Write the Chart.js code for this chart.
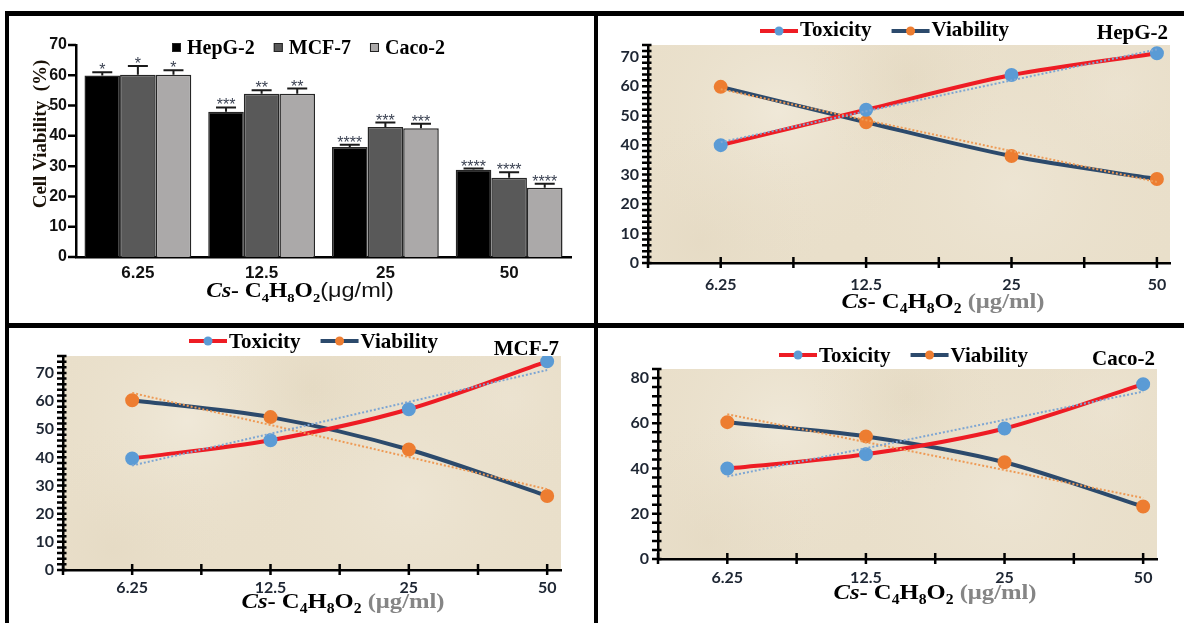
<!DOCTYPE html>
<html>
<head>
<meta charset="utf-8">
<script src="https://cdn.jsdelivr.net/npm/chart.js@4.4.0/dist/chart.umd.min.js"></script>
<style>
  html, body { margin: 0; padding: 0; background: #fff; }
  #page { position: relative; width: 1184px; height: 623px; overflow: hidden; background: #fff; }
  .rule { position: absolute; background: #000; }
  canvas { position: absolute; }
</style>
</head>
<body>
<div id="page">
  <canvas id="bars" width="585" height="307" style="left:9px;top:16px"></canvas>
  <canvas id="hepLine" width="586" height="307" style="left:598px;top:16px"></canvas>
  <canvas id="mcfLine" width="585" height="295" style="left:9px;top:328px"></canvas>
  <canvas id="cacoLine" width="586" height="295" style="left:598px;top:328px"></canvas>
  <div class="rule" style="left:5px;top:11px;width:1179px;height:5px"></div>
  <div class="rule" style="left:5px;top:11px;width:4px;height:612px"></div>
  <div class="rule" style="left:594px;top:11px;width:4px;height:612px"></div>
  <div class="rule" style="left:5px;top:323px;width:1179px;height:5px"></div>
</div>
<script>
const doses = ['6.25', '12.5', '25', '50'];
const cellLines = ['HepG-2', 'MCF-7', 'Caco-2'];

// bar panel: cell viability (%), upper error and significance marks
const hepViability = [59.9, 48.0, 36.3, 28.8];
const mcfViability = [60.2, 53.9, 42.9, 26.2];
const cacoViability = [60.2, 53.9, 42.5, 22.9];
const hepSd = [1.1, 1.4, 0.8, 0.4];
const mcfSd = [2.9, 1.2, 1.5, 1.8];
const cacoSd = [1.5, 1.7, 1.5, 1.3];
const hepStars = ['*', '***', '****', '****'];
const mcfStars = ['*', '**', '***', '****'];
const cacoStars = ['*', '**', '***', '****'];

// line panels: toxicity / viability per dose, dotted trend at 6.25 and 50
const hepToxicity = [40.0, 52.0, 63.8, 71.2];
const hepViabilityLine = [59.8, 47.8, 36.3, 28.5];
const hepToxicityTrend = [41.0, 72.5];
const hepViabilityTrend = [59.0, 27.5];

const mcfToxicity = [39.6, 46.1, 57.1, 74.1];
const mcfViabilityLine = [60.3, 54.3, 42.8, 26.3];
const mcfToxicityTrend = [37.1, 71.0];
const mcfViabilityTrend = [62.9, 28.7];

const cacoToxicity = [40.0, 46.3, 57.7, 77.3];
const cacoViabilityLine = [60.5, 54.2, 42.8, 23.2];
const cacoToxicityTrend = [36.5, 74.0];
const cacoViabilityTrend = [64.0, 27.0];

const SERIF = '"Liberation Serif", "Times New Roman", serif';
const SANS = '"Liberation Sans", Arial, sans-serif';
const CAL = 'Lato, "Liberation Sans", sans-serif';

// draws text pieces side by side; sx stretches the whole line horizontally
function drawRuns(ctx, runs, x, y, align, sx) {
    sx = sx || 1;
    ctx.save();
    ctx.textBaseline = 'alphabetic';
    ctx.textAlign = 'left';
    let total = 0;
    runs.forEach(r => { ctx.font = r.font; total += ctx.measureText(r.text).width; });
    let start = align === 'center' ? -total / 2 : (align === 'right' ? -total : 0);
    ctx.translate(x, y);
    ctx.scale(sx, 1);
    let cx = start;
    runs.forEach(r => {
        ctx.font = r.font;
        ctx.fillStyle = r.color || '#000';
        ctx.fillText(r.text, cx, r.dy || 0);
        cx += ctx.measureText(r.text).width;
    });
    ctx.restore();
}

function formulaRuns(size, unit) {
    const big = `bold ${size}px ${SERIF}`;
    const sub = `bold ${Math.round(size * 0.62)}px ${SERIF}`;
    const dy = Math.round(size * 0.22);
    return [
        { text: 'Cs', font: `italic bold ${size}px ${SERIF}` },
        { text: '- ', font: big },
        { text: 'C', font: big }, { text: '4', font: sub, dy: dy },
        { text: 'H', font: big }, { text: '8', font: sub, dy: dy },
        { text: 'O', font: big }, { text: '2', font: sub, dy: dy },
        unit
    ];
}

// ---------- bar panel ----------
const barDecor = {
    id: 'barDecor',
    afterDatasetsDraw(chart) {
        const ctx = chart.ctx;
        const yScale = chart.scales.y;
        chart.data.datasets.forEach((ds, i) => {
            const meta = chart.getDatasetMeta(i);
            meta.data.forEach((bar, j) => {
                const top = yScale.getPixelForValue(ds.data[j] + ds.sd[j]);
                ctx.save();
                ctx.strokeStyle = '#1a1a1a';
                ctx.lineWidth = 2;
                ctx.beginPath();
                ctx.moveTo(bar.x, bar.y);
                ctx.lineTo(bar.x, top);
                ctx.moveTo(bar.x - 10, top);
                ctx.lineTo(bar.x + 10, top);
                ctx.stroke();
                ctx.font = `16px ${SANS}`;
                ctx.fillStyle = '#3b4252';
                ctx.textAlign = 'center';
                ctx.textBaseline = 'alphabetic';
                ctx.fillText(ds.stars[j], bar.x, top + 3);
                ctx.restore();
            });
        });
    },
    afterDraw(chart) {
        const ctx = chart.ctx;
        // y tick marks, left of the axis
        const ys = chart.scales.y;
        ctx.save();
        ctx.strokeStyle = '#000';
        ctx.lineWidth = 2.5;
        ctx.beginPath();
        ys.ticks.forEach(t => {
            const py = ys.getPixelForValue(t.value);
            ctx.moveTo(ys.right - 8, py);
            ctx.lineTo(ys.right, py);
        });
        ctx.stroke();
        ctx.restore();
        // legend
        let x = 163;
        chart.data.datasets.forEach(ds => {
            ctx.save();
            ctx.fillStyle = ds.backgroundColor;
            ctx.fillRect(x, 27, 9, 9);
            ctx.strokeStyle = '#222';
            ctx.lineWidth = 1;
            ctx.strokeRect(x + 0.5, 27.5, 8, 8);
            ctx.font = `bold 20px ${SERIF}`;
            ctx.fillStyle = '#000';
            ctx.textBaseline = 'alphabetic';
            ctx.fillText(ds.label, x + 15, 38);
            x += 15 + ctx.measureText(ds.label).width + 19;
            ctx.restore();
        });
        // y title
        ctx.save();
        ctx.translate(37, 118);
        ctx.rotate(-Math.PI / 2);
        ctx.font = `bold 19px ${SERIF}`;
        ctx.fillStyle = '#1a1208';
        ctx.textAlign = 'center';
        ctx.fillText('Cell Viability  (%)', 0, 0);
        ctx.restore();
        // x title
        drawRuns(ctx, formulaRuns(21, { text: '(μg/ml)', font: `21px ${SANS}`, color: '#111' }), 291, 281, 'center', 1.12);
    }
};

new Chart(document.getElementById('bars'), {
    type: 'bar',
    data: {
        labels: doses,
        datasets: [
            { label: cellLines[0], data: hepViability, sd: hepSd, stars: hepStars, backgroundColor: '#000000' },
            { label: cellLines[1], data: mcfViability, sd: mcfSd, stars: mcfStars, backgroundColor: '#595959' },
            { label: cellLines[2], data: cacoViability, sd: cacoSd, stars: cacoStars, backgroundColor: '#aba9a9' }
        ]
    },
    options: {
        responsive: false,
        animation: false,
        devicePixelRatio: 1,
        layout: { padding: { top: 29, right: 23, left: 0, bottom: 0 } },
        datasets: {
            bar: { categoryPercentage: 0.863, barPercentage: 1, borderColor: '#262626', borderWidth: 1.5 }
        },
        scales: {
            x: {
                grid: { display: false, drawTicks: false },
                border: { color: '#000', width: 2.5 },
                ticks: { font: { family: SANS, size: 17, weight: 'bold' }, color: '#111', padding: 6 },
                afterFit: s => { s.height = 66; }
            },
            y: {
                min: 0,
                max: 70,
                ticks: { stepSize: 10, font: { family: SANS, size: 16, weight: 'bold' }, color: '#111', padding: 9 },
                grid: { display: false, drawTicks: false },
                border: { color: '#000', width: 2.5 },
                afterFit: s => { s.width = 67; }
            }
        },
        plugins: { legend: { display: false }, tooltip: { enabled: false } }
    },
    plugins: [barDecor]
});

// ---------- line panels ----------
function toPoints(values) {
    return values.map((v, i) => ({ x: i, y: v }));
}
function trendPoints(ends) {
    return [{ x: 0, y: ends[0] }, { x: doses.length - 1, y: ends[1] }];
}

function makeLineDecor(cfg) {
    return {
        id: 'lineDecor',
        beforeDraw(chart) {
            const { ctx, chartArea: a } = chart;
            ctx.save();
            ctx.fillStyle = '#e9dfca';
            ctx.fillRect(a.left, a.top, a.width, a.height);
            const spots = [[0.25, 0.3, 0.3, 'rgba(242,236,222,0.7)'], [0.7, 0.65, 0.35, 'rgba(240,233,218,0.55)'],
                           [0.5, 0.15, 0.2, 'rgba(222,210,184,0.35)'], [0.1, 0.9, 0.25, 'rgba(224,212,188,0.35)'],
                           [0.9, 0.2, 0.2, 'rgba(238,230,214,0.5)']];
            spots.forEach(s => {
                const cx = a.left + a.width * s[0], cy = a.top + a.height * s[1], r = a.width * s[2];
                const g = ctx.createRadialGradient(cx, cy, 0, cx, cy, r);
                g.addColorStop(0, s[3]);
                g.addColorStop(1, 'rgba(233,223,202,0)');
                ctx.fillStyle = g;
                ctx.fillRect(a.left, a.top, a.width, a.height);
            });
            ctx.restore();
        },
        afterDraw(chart) {
            const ctx = chart.ctx;
            // tick marks crossing both axes
            const xs = chart.scales.x, ys = chart.scales.y;
            ctx.save();
            ctx.strokeStyle = '#000';
            ctx.lineWidth = 2.5;
            ctx.beginPath();
            ys.ticks.forEach(t => {
                const py = ys.getPixelForValue(t.value);
                ctx.moveTo(ys.right - 6, py);
                ctx.lineTo(ys.right + 3.5, py);
            });
            xs.ticks.forEach(t => {
                const px = xs.getPixelForValue(t.value);
                ctx.moveTo(px, xs.top - 6);
                ctx.lineTo(px, xs.top + 5);
            });
            ctx.stroke();
            ctx.restore();
            // legend
            let x = cfg.legendX;
            chart.data.datasets.slice(0, 2).forEach(ds => {
                ctx.save();
                ctx.strokeStyle = ds.borderColor;
                ctx.lineWidth = 4;
                ctx.beginPath();
                ctx.moveTo(x, cfg.legendLineY);
                ctx.lineTo(x + 38, cfg.legendLineY);
                ctx.stroke();
                ctx.fillStyle = ds.pointBackgroundColor;
                ctx.beginPath();
                ctx.arc(x + 19, cfg.legendLineY, 4.5, 0, Math.PI * 2);
                ctx.fill();
                ctx.font = `bold 21px ${SERIF}`;
                ctx.fillStyle = '#000';
                ctx.textBaseline = 'alphabetic';
                ctx.fillText(ds.label, x + 40, cfg.legendTextY);
                x += 40 + ctx.measureText(ds.label).width + 20;
                ctx.restore();
            });
            drawRuns(ctx, [{ text: cfg.title, font: `bold 21px ${SERIF}` }], cfg.titleRight, cfg.titleY, 'right');
            drawRuns(ctx, formulaRuns(22, { text: ' (μg/ml)', font: `bold 22px ${SERIF}`, color: '#858585' }),
                cfg.xTitleX, cfg.xTitleY, 'center', 1.12);
        }
    };
}

function buildLineChart(canvasId, cfg) {
    const tickFont = { family: CAL, size: 16, weight: 'bold' };
    new Chart(document.getElementById(canvasId), {
        type: 'line',
        data: {
            datasets: [
                {
                    label: 'Toxicity', data: toPoints(cfg.toxicity),
                    borderColor: '#ee1c24', borderWidth: 4, tension: 0.3,
                    pointBackgroundColor: '#5b9bd5', pointBorderColor: '#5b9bd5', pointRadius: 5
                },
                {
                    label: 'Viability', data: toPoints(cfg.viability),
                    borderColor: '#2c4a6c', borderWidth: 4, tension: 0.3,
                    pointBackgroundColor: '#ed7d31', pointBorderColor: '#ed7d31', pointRadius: 5
                },
                {
                    label: 'Toxicity trend', data: trendPoints(cfg.toxicityTrend), order: -1,
                    borderColor: '#7ea6d3', borderWidth: 2, borderDash: [2, 2], pointRadius: 0
                },
                {
                    label: 'Viability trend', data: trendPoints(cfg.viabilityTrend), order: -1,
                    borderColor: '#ee9a55', borderWidth: 2, borderDash: [2, 2], pointRadius: 0
                }
            ]
        },
        options: {
            responsive: false,
            animation: false,
            devicePixelRatio: 1,
            layout: { padding: { top: cfg.top, right: cfg.right, left: 0, bottom: 0 } },
            scales: {
                x: {
                    type: 'linear',
                    min: -0.5,
                    max: cfg.xMax,
                    ticks: {
                        stepSize: 0.5, includeBounds: false, autoSkip: false, maxRotation: 0,
                        font: tickFont, color: '#1e2633', padding: cfg.xPad,
                        callback: v => Math.abs(v - Math.round(v)) < 1e-6 && v >= 0 ? doses[Math.round(v)] : ''
                    },
                    grid: { display: false, drawTicks: false },
                    border: { color: '#000', width: 2.5 },
                    afterFit: s => { s.height = cfg.xHeight; }
                },
                y: {
                    min: 0,
                    max: cfg.yMax,
                    ticks: {
                        stepSize: cfg.yStep, autoSkip: false, font: tickFont, color: '#1e2633', padding: 9,
                        callback: v => v % cfg.yLabelEvery === 0 ? v : ''
                    },
                    grid: { display: false, drawTicks: false },
                    border: { color: '#000', width: 2.5 },
                    afterFit: s => { s.width = cfg.yWidth; }
                }
            },
            plugins: { legend: { display: false }, tooltip: { enabled: false } }
        },
        plugins: [makeLineDecor(cfg)]
    });
}

buildLineChart('hepLine', {
    toxicity: hepToxicity, viability: hepViabilityLine,
    toxicityTrend: hepToxicityTrend, viabilityTrend: hepViabilityTrend,
    title: cellLines[0], yMax: 74, yStep: 2, yLabelEvery: 10, xMax: 3.09,
    top: 29, right: 14, yWidth: 50, xHeight: 60, xPad: 12,
    legendX: 162, legendLineY: 15, legendTextY: 20, titleRight: 570, titleY: 23,
    xTitleX: 345, xTitleY: 292
});
buildLineChart('mcfLine', {
    toxicity: mcfToxicity, viability: mcfViabilityLine,
    toxicityTrend: mcfToxicityTrend, viabilityTrend: mcfViabilityTrend,
    title: cellLines[1], yMax: 76, yStep: 2, yLabelEvery: 10, xMax: 3.1,
    top: 28, right: 33, yWidth: 54, xHeight: 53, xPad: 8,
    legendX: 180, legendLineY: 13, legendTextY: 20, titleRight: 550, titleY: 27,
    xTitleX: 334, xTitleY: 280
});
buildLineChart('cacoLine', {
    toxicity: cacoToxicity, viability: cacoViabilityLine,
    toxicityTrend: cacoToxicityTrend, viabilityTrend: cacoViabilityTrend,
    title: cellLines[2], yMax: 84, yStep: 4, yLabelEvery: 20, xMax: 3.1,
    top: 41, right: 27, yWidth: 60, xHeight: 64, xPad: 9,
    legendX: 181, legendLineY: 27, legendTextY: 34, titleRight: 557, titleY: 37,
    xTitleX: 337, xTitleY: 271
});
</script>
</body>
</html>
